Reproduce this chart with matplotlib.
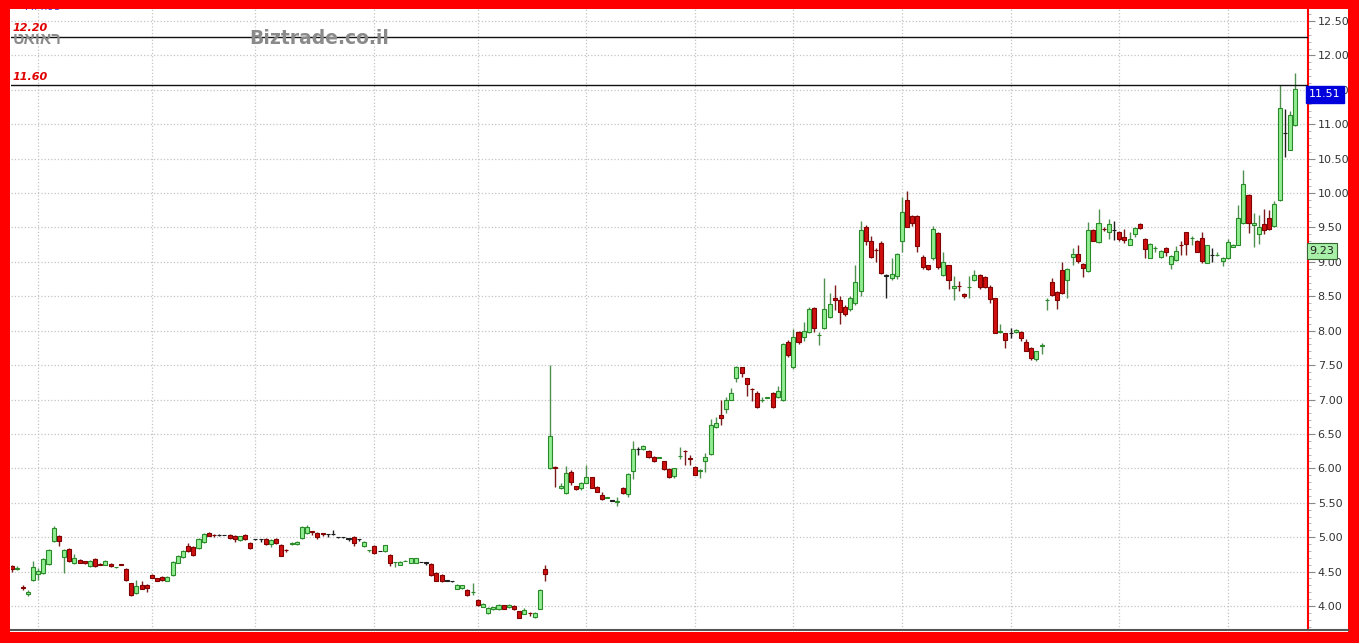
import matplotlib.pyplot as plt
import numpy as np
from matplotlib.patches import Rectangle
from matplotlib.lines import Line2D
from matplotlib.ticker import MultipleLocator
from matplotlib.transforms import blended_transform_factory

# daily candles (one per trading day)
opens = [4.58, 4.54, 4.27, 4.18, 4.38, 4.47, 4.48, 4.61, 4.94, 5.02,
         4.71, 4.83, 4.62, 4.67, 4.65, 4.58, 4.68, 4.61, 4.60, 4.61,
         4.56, 4.605, 4.54, 4.33, 4.19, 4.30, 4.31, 4.45, 4.40, 4.42,
         4.37, 4.45, 4.63, 4.71, 4.87, 4.86, 4.84, 4.93, 5.06, 5.035,
         5.03, 5.03, 5.03, 5.02, 4.96, 5.03, 4.91, 4.97, 4.97, 4.98,
         4.90, 4.98, 4.89, 4.815, 4.90, 4.90, 4.99, 5.06, 5.085, 5.06,
         5.055, 5.04, 5.04, 5.00, 5.00, 4.98, 5.00, 4.97, 4.87, 4.81,
         4.87, 4.80, 4.80, 4.74, 4.635, 4.60, 4.655, 4.63, 4.63, 4.64,
         4.63, 4.61, 4.48, 4.45, 4.37, 4.36, 4.25, 4.26, 4.23, 4.20,
         4.09, 3.99, 3.90, 3.95, 3.95, 4.01, 3.98, 4.00, 3.92, 3.89,
         3.905, 3.84, 3.96, 4.54, 6.00, 6.02, 5.72, 5.64, 5.95, 5.74,
         5.71, 5.79, 5.87, 5.73, 5.61, 5.575, 5.53, 5.515, 5.71, 5.63,
         5.96, 6.28, 6.28, 6.25, 6.17, 6.155, 6.10, 5.99, 5.89, 6.175,
         6.255, 6.145, 6.02, 5.965, 6.10, 6.21, 6.60, 6.78, 6.86, 7.00,
         7.31, 7.47, 7.31, 7.155, 7.09, 6.995, 7.025, 7.10, 7.03, 7.00,
         7.84, 7.47, 7.98, 7.91, 7.98, 8.33, 7.935, 8.04, 8.20, 8.48,
         8.45, 8.34, 8.32, 8.40, 8.58, 9.51, 9.30, 9.175, 9.27, 8.80,
         8.76, 8.80, 9.30, 9.90, 9.67, 9.67, 9.07, 8.95, 9.05, 9.42,
         8.81, 8.95, 8.62, 8.655, 8.53, 8.635, 8.74, 8.81, 8.78, 8.63,
         8.47, 7.985, 7.96, 7.96, 7.98, 7.98, 7.84, 7.75, 7.59, 7.785,
         8.445, 8.71, 8.56, 8.88, 8.74, 9.07, 9.11, 8.97, 8.87, 9.46,
         9.29, 9.485, 9.44, 9.46, 9.43, 9.36, 9.25, 9.40, 9.55, 9.33,
         9.06, 9.195, 9.07, 9.20, 8.97, 9.03, 9.245, 9.43, 9.345, 9.31,
         9.35, 8.99, 9.10, 9.095, 9.01, 9.05, 9.22, 9.25, 9.56, 9.97,
         9.53, 9.41, 9.55, 9.64, 9.52, 9.90, 10.87, 10.63, 10.99]
highs = [4.60, 4.58, 4.30, 4.23, 4.65, 4.55, 4.70, 4.83, 5.16, 5.03,
         4.83, 4.84, 4.75, 4.68, 4.66, 4.67, 4.69, 4.62, 4.67, 4.62,
         4.57, 4.61, 4.55, 4.34, 4.38, 4.36, 4.32, 4.47, 4.41, 4.43,
         4.43, 4.65, 4.74, 4.82, 4.92, 4.87, 4.99, 5.06, 5.07, 5.04,
         5.04, 5.035, 5.04, 5.03, 5.02, 5.04, 4.93, 4.975, 4.975, 4.99,
         4.97, 4.99, 4.90, 4.83, 4.93, 4.94, 5.16, 5.17, 5.09, 5.07,
         5.06, 5.05, 5.11, 5.005, 5.005, 4.985, 5.01, 4.975, 4.94, 4.82,
         4.88, 4.805, 4.89, 4.75, 4.64, 4.65, 4.665, 4.70, 4.70, 4.645,
         4.635, 4.62, 4.49, 4.46, 4.375, 4.365, 4.32, 4.31, 4.24, 4.33,
         4.10, 4.04, 3.98, 3.99, 4.03, 4.02, 4.03, 4.01, 3.93, 3.97,
         3.91, 3.91, 4.24, 4.60, 7.50, 6.03, 5.78, 6.03, 5.97, 5.75,
         5.80, 6.05, 5.88, 5.74, 5.65, 5.59, 5.535, 5.58, 5.73, 5.93,
         6.40, 6.31, 6.34, 6.26, 6.18, 6.17, 6.11, 6.00, 6.01, 6.31,
         6.26, 6.20, 6.03, 5.99, 6.22, 6.72, 6.75, 7.00, 7.03, 7.17,
         7.49, 7.48, 7.32, 7.17, 7.13, 7.03, 7.04, 7.11, 7.20, 7.82,
         7.86, 8.03, 8.00, 8.12, 8.34, 8.34, 7.98, 8.77, 8.55, 8.67,
         8.50, 8.38, 8.50, 8.95, 9.59, 9.53, 9.37, 9.20, 9.31, 8.82,
         9.05, 9.13, 9.95, 10.03, 9.68, 9.68, 9.10, 8.96, 9.52, 9.43,
         9.15, 8.96, 8.80, 8.72, 8.55, 8.80, 8.88, 8.83, 8.80, 8.67,
         8.48, 8.10, 7.97, 8.04, 8.03, 7.99, 7.88, 7.76, 7.71, 7.82,
         8.48, 8.77, 8.57, 9.00, 8.91, 9.20, 9.25, 8.99, 9.58, 9.48,
         9.77, 9.50, 9.62, 9.60, 9.45, 9.48, 9.43, 9.51, 9.57, 9.35,
         9.27, 9.23, 9.17, 9.21, 9.10, 9.23, 9.30, 9.44, 9.37, 9.32,
         9.43, 9.25, 9.20, 9.14, 9.07, 9.33, 9.26, 9.83, 10.34, 9.98,
         9.71, 9.68, 9.77, 9.76, 9.88, 11.57, 11.22, 11.20, 11.75]
lows = [4.50, 4.53, 4.23, 4.15, 4.36, 4.38, 4.47, 4.60, 4.93, 4.87,
        4.48, 4.64, 4.61, 4.62, 4.61, 4.57, 4.57, 4.59, 4.59, 4.57,
        4.55, 4.59, 4.37, 4.15, 4.18, 4.24, 4.20, 4.40, 4.36, 4.37,
        4.36, 4.44, 4.62, 4.70, 4.79, 4.72, 4.83, 4.92, 5.01, 5.00,
        5.01, 5.025, 4.98, 4.93, 4.95, 4.96, 4.83, 4.965, 4.93, 4.89,
        4.86, 4.90, 4.72, 4.79, 4.89, 4.89, 4.98, 5.05, 5.03, 4.97,
        5.02, 5.00, 5.03, 4.995, 4.995, 4.95, 4.87, 4.94, 4.86, 4.79,
        4.76, 4.795, 4.79, 4.58, 4.57, 4.59, 4.65, 4.62, 4.62, 4.635,
        4.60, 4.44, 4.36, 4.35, 4.365, 4.355, 4.24, 4.25, 4.15, 4.16,
        4.00, 3.98, 3.89, 3.94, 3.94, 3.95, 3.97, 3.94, 3.82, 3.88,
        3.86, 3.83, 3.95, 4.36, 5.99, 5.73, 5.70, 5.63, 5.76, 5.69,
        5.69, 5.78, 5.71, 5.65, 5.54, 5.57, 5.525, 5.46, 5.63, 5.58,
        5.85, 6.20, 6.27, 6.15, 6.09, 6.15, 5.98, 5.86, 5.86, 6.13,
        6.05, 6.05, 5.90, 5.86, 5.95, 6.20, 6.58, 6.63, 6.80, 6.99,
        7.25, 7.33, 7.05, 6.98, 6.88, 6.97, 7.02, 6.88, 7.02, 6.98,
        7.62, 7.45, 7.80, 7.85, 7.96, 7.98, 7.79, 8.02, 8.18, 8.30,
        8.10, 8.22, 8.28, 8.38, 8.50, 9.25, 9.05, 9.00, 8.82, 8.47,
        8.74, 8.75, 9.15, 9.50, 9.52, 9.15, 8.89, 8.88, 9.03, 8.90,
        8.79, 8.60, 8.45, 8.58, 8.48, 8.48, 8.72, 8.60, 8.62, 8.40,
        7.96, 7.97, 7.75, 7.90, 7.96, 7.85, 7.70, 7.58, 7.56, 7.66,
        8.30, 8.50, 8.32, 8.53, 8.48, 8.95, 8.98, 8.78, 8.86, 9.30,
        9.27, 9.45, 9.33, 9.32, 9.30, 9.28, 9.24, 9.36, 9.48, 9.06,
        9.05, 9.15, 9.06, 9.08, 8.90, 9.01, 9.10, 9.10, 9.25, 9.14,
        8.99, 8.98, 9.00, 9.08, 8.94, 9.04, 9.21, 9.24, 9.55, 9.42,
        9.22, 9.26, 9.40, 9.47, 9.50, 9.89, 10.52, 10.62, 10.98]
closes = [4.54, 4.55, 4.26, 4.21, 4.57, 4.51, 4.68, 4.81, 5.13, 4.94,
          4.81, 4.65, 4.70, 4.63, 4.62, 4.65, 4.58, 4.60, 4.65, 4.58,
          4.565, 4.60, 4.38, 4.16, 4.29, 4.25, 4.26, 4.41, 4.37, 4.38,
          4.42, 4.64, 4.73, 4.80, 4.80, 4.74, 4.97, 5.05, 5.02, 5.03,
          5.03, 5.03, 4.99, 4.98, 5.01, 4.97, 4.84, 4.97, 4.97, 4.90,
          4.96, 4.91, 4.73, 4.81, 4.92, 4.93, 5.15, 5.15, 5.08, 5.00,
          5.05, 5.04, 5.04, 5.00, 5.00, 4.98, 4.91, 4.97, 4.93, 4.815,
          4.77, 4.80, 4.88, 4.62, 4.64, 4.64, 4.66, 4.69, 4.69, 4.64,
          4.63, 4.45, 4.37, 4.36, 4.37, 4.36, 4.31, 4.30, 4.16, 4.21,
          4.01, 4.03, 3.97, 3.98, 4.02, 3.96, 4.02, 3.95, 3.83, 3.94,
          3.90, 3.90, 4.23, 4.46, 6.47, 6.00, 5.74, 5.93, 5.80, 5.70,
          5.79, 5.87, 5.72, 5.66, 5.55, 5.58, 5.53, 5.52, 5.64, 5.92,
          6.28, 6.28, 6.33, 6.17, 6.10, 6.16, 5.99, 5.87, 6.00, 6.18,
          6.25, 6.14, 5.91, 5.97, 6.16, 6.63, 6.66, 6.73, 7.00, 7.10,
          7.47, 7.38, 7.22, 7.15, 6.89, 7.00, 7.03, 6.89, 7.12, 7.81,
          7.65, 7.91, 7.84, 8.00, 8.32, 8.04, 7.94, 8.32, 8.39, 8.45,
          8.27, 8.24, 8.48, 8.71, 9.46, 9.30, 9.07, 9.17, 8.84, 8.80,
          8.83, 9.11, 9.72, 9.51, 9.56, 9.23, 8.92, 8.90, 9.48, 8.93,
          9.00, 8.74, 8.65, 8.65, 8.50, 8.64, 8.81, 8.64, 8.64, 8.46,
          7.97, 7.99, 7.87, 7.96, 8.01, 7.89, 7.71, 7.60, 7.70, 7.79,
          8.45, 8.52, 8.44, 8.55, 8.89, 9.11, 9.02, 8.91, 9.46, 9.31,
          9.56, 9.48, 9.55, 9.46, 9.34, 9.32, 9.33, 9.49, 9.49, 9.19,
          9.26, 9.20, 9.16, 9.14, 9.09, 9.16, 9.24, 9.26, 9.35, 9.15,
          9.02, 9.24, 9.10, 9.10, 9.06, 9.29, 9.25, 9.64, 10.13, 9.56,
          9.57, 9.51, 9.46, 9.48, 9.84, 11.24, 10.87, 11.14, 11.51]

month_starts = [5, 27, 47, 70, 90, 111, 132, 151, 172, 193, 214, 235]
ref_levels = [12.27, 11.57]
ref_labels = ["12.20", "11.60"]
last_price = 11.51
ma_value = 9.23
ma_label = "M:4.93"
stock_name = "טאואר"
site_name = "Biztrade.co.il"

W, H = 1359, 643
fig = plt.figure(figsize=(W / 100, H / 100), dpi=100, facecolor='#ff0000')
fig.patches.append(Rectangle((10 / W, 11 / H), 1338 / W, 623 / H, transform=fig.transFigure,
                             facecolor='white', edgecolor='none', zorder=-5))
ax = fig.add_axes([11 / W, 13 / H, 1297 / W, 621 / H])
ax.set_facecolor('white')

o = np.array(opens)
h = np.array(highs)
l = np.array(lows)
c = np.array(closes)
x = np.arange(len(o))

fill = np.where(c > o, '#90ee90', np.where(c < o, '#d01010', '#202020'))
edge = np.where(c > o, '#2a8a2a', np.where(c < o, '#800000', '#202020'))
wick = np.where(c > o, '#4f8f4f', np.where(c < o, '#7a1a1a', '#202020'))

ax.vlines(x, l, h, colors=wick, linewidth=1, zorder=2)
ax.bar(x, np.maximum(np.abs(c - o), 0.004), bottom=np.minimum(o, c), width=0.78,
       color=fill, edgecolor=edge, linewidth=0.8, zorder=3)

ax.set_xlim(-0.25, 250.5)
ax.set_ylim(3.651, 12.675)
ax.set_xticks(month_starts)
ax.set_yticks(np.arange(4, 12.51, 0.5))
ax.yaxis.set_minor_locator(MultipleLocator(0.1))
ax.grid(True, color='#c4c4c4', linestyle=':', linewidth=0.9, zorder=0)
ax.set_axisbelow(True)
ax.tick_params(axis='x', length=0, labelbottom=False)
ax.yaxis.tick_right()
ax.yaxis.set_major_formatter(plt.FuncFormatter(lambda v, p: f"{v:.2f}"))
ax.tick_params(axis='y', which='major', direction='out', length=5, color='#888888',
               labelsize=8, labelcolor='#333333', pad=2)
ax.tick_params(axis='y', which='minor', direction='out', length=2, color='#aaaaaa')

for side in ['left', 'top']:
    ax.spines[side].set_visible(False)
ax.spines['right'].set_color('#ff0000')
ax.spines['right'].set_linewidth(1.5)
ax.spines['bottom'].set_color('#555555')
ax.spines['bottom'].set_linewidth(1.5)
fig.add_artist(Line2D([1308 / W, 1348 / W], [13 / H, 13 / H], color='#555555', linewidth=1.5))

blend = blended_transform_factory(ax.transAxes, ax.transData)
for level, lab in zip(ref_levels, ref_labels):
    ax.axhline(level, color='#111111', linewidth=1, zorder=4)
    ax.text(0.001, level + 0.05, lab, transform=blend, ha='left', va='bottom', color='#e00000',
            fontsize=8, fontweight='bold', fontstyle='italic', zorder=5)

ax.text(0.001, 0.951, stock_name, transform=ax.transAxes, ha='left', va='center',
        color='#8a8a8a', fontsize=12, fontweight='bold', family='Liberation Sans', zorder=5)
ax.text(0.184, 0.952, site_name, transform=ax.transAxes, ha='left', va='center',
        color='#8a8a8a', fontsize=13.5, fontweight='bold', zorder=5)
ax.text(0.011, 1.004, ma_label, transform=ax.transAxes, ha='left', va='center',
        color='#3333ee', fontsize=7.5, clip_on=True)

ax.text(1.001, last_price, f"{last_price:.2f}", transform=blend, ha='left', va='top',
        color='white', fontsize=8, zorder=6, clip_on=False,
        bbox=dict(boxstyle='square,pad=0.3', facecolor='#0000dd', edgecolor='#0000dd'))
ax.text(1.001, ma_value, f"{ma_value:.2f}", transform=blend, ha='left', va='top',
        color='#222222', fontsize=8, zorder=6, clip_on=False,
        bbox=dict(boxstyle='square,pad=0.25', facecolor='#a8f0a8', edgecolor='#336633', linewidth=0.8))

fig.savefig('out.png', dpi=100, facecolor=fig.get_facecolor())
